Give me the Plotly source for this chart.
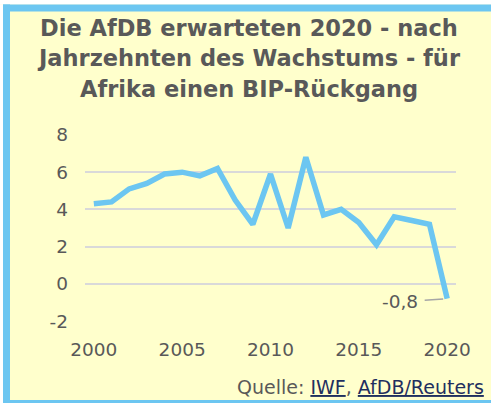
import plotly.graph_objects as go

years = list(range(2000, 2021))
growth = [4.3, 4.4, 5.1, 5.4, 5.9, 6.0, 5.8, 6.2, 4.5, 3.2, 5.9, 3.0, 6.8, 3.7, 4.0, 3.3, 2.1, 3.6, 3.4, 3.2, -0.8]
y_ticks = [-2, 0, 2, 4, 6, 8]
x_ticks = [2000, 2005, 2010, 2015, 2020]
label_text = "-0,8"
title_lines = ["Die AfDB erwarteten 2020 - nach", "Jahrzehnten des Wachstums - für", "Afrika einen BIP-Rückgang"]

W, H = 491, 403
ML, MR, MT, MB = 85, 35, 134, 81
BLUE = "#6CC6F1"
YEL = "#FFFFCC"
GRAY = "#595959"

pw = W - ML - MR
ph = H - MT - MB

def px(x):
    return (x - ML) / pw

def py(y):
    return 1 - (y - MT) / ph

fig = go.Figure()
fig.add_trace(go.Scatter(x=years, y=growth, mode="lines",
                         line=dict(color=BLUE, width=5.5), hoverinfo="skip"))

shapes = [
    dict(type="rect", xref="paper", yref="paper", x0=px(-5), x1=px(W + 5), y0=py(0 - 5), y1=py(4.5),
         fillcolor="white", line=dict(width=0), layer="above"),
    dict(type="rect", xref="paper", yref="paper", x0=px(3), x1=px(W + 5), y0=py(4.5), y1=py(11.5),
         fillcolor=BLUE, line=dict(width=0), layer="above"),
    dict(type="rect", xref="paper", yref="paper", x0=px(-5), x1=px(3), y0=py(4.5), y1=py(H + 5),
         fillcolor="white", line=dict(width=0), layer="above"),
    dict(type="rect", xref="paper", yref="paper", x0=px(3), x1=px(10), y0=py(4.5), y1=py(H + 5),
         fillcolor=BLUE, line=dict(width=0), layer="above"),
    dict(type="rect", xref="paper", yref="paper", x0=px(3), x1=px(W + 5), y0=py(400), y1=py(H + 5),
         fillcolor=BLUE, line=dict(width=0), layer="above"),
]

annotations = [
    dict(x=years[-1], y=growth[-1], xref="x", yref="y", text=label_text, showarrow=True,
         arrowhead=0, arrowwidth=1.5, arrowcolor="#A6A6A6", ax=-47, ay=3, standoff=4,
         borderpad=6, font=dict(family="DejaVu Sans", size=18.5, color=GRAY)),
    dict(x=px(486), y=py(387), xref="paper", yref="paper", xanchor="right", yanchor="middle",
         showarrow=False,
         text="Quelle: <span style='text-decoration:underline;fill:#1F2F5F'>IWF</span>, "
              "<span style='text-decoration:underline;fill:#1F2F5F'>AfDB/Reuters</span>",
         font=dict(family="DejaVu Sans", size=19, color=GRAY)),
]
for i, line in enumerate(title_lines):
    annotations.append(dict(x=px(249), y=py(28 + i * 30.5), xref="paper", yref="paper",
                            xanchor="center", yanchor="middle", showarrow=False,
                            text="<b>" + line + "</b>",
                            font=dict(family="DejaVu Sans", size=22.5, color=GRAY)))

fig.update_layout(
    width=W, height=H,
    margin=dict(l=ML, r=MR, t=MT, b=MB, pad=0),
    paper_bgcolor=YEL, plot_bgcolor=YEL,
    showlegend=False,
    shapes=shapes,
    annotations=annotations,
    xaxis=dict(range=[1999.5, 2020.5], tickvals=x_ticks, ticktext=[str(v) for v in x_ticks],
               showgrid=False, zeroline=False, showline=False, ticks="",
               ticklabelstandoff=14,
               tickfont=dict(family="DejaVu Sans", size=18.5, color=GRAY)),
    yaxis=dict(range=[-2.05, 8.05], tickvals=y_ticks, ticktext=[str(v) for v in y_ticks],
               showgrid=True, gridcolor="#D9D9D9", gridwidth=2, zeroline=False, showline=False,
               ticks="", ticklabelstandoff=16,
               tickfont=dict(family="DejaVu Sans", size=18.5, color=GRAY)),
)

fig.write_html("out.html", config={"displayModeBar": False},
               post_script="document.body.style.margin='0';document.body.style.overflow='hidden';")
